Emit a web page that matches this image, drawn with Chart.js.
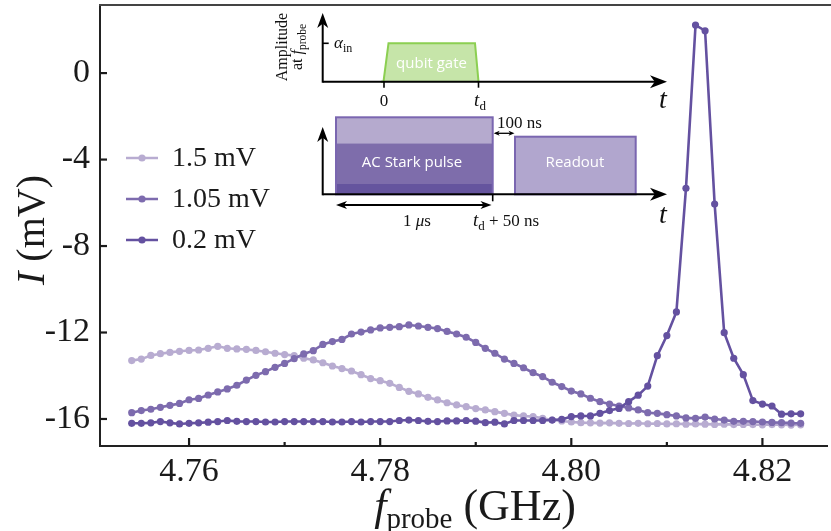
<!DOCTYPE html>
<html><head><meta charset="utf-8">
<script src="https://cdn.jsdelivr.net/npm/chart.js@4"></script>
<style>html,body{margin:0;padding:0;background:#fff;overflow:hidden}</style>
</head><body>
<canvas id="c" width="831" height="531"></canvas>
<script>
// ---------- data ----------
const freqs = [4.754,4.755,4.756,4.757,4.758,4.759,4.760,4.761,4.762,4.763,4.764,4.765,4.766,4.767,4.768,4.769,4.770,4.771,4.772,4.773,4.774,4.775,4.776,4.777,4.778,4.779,4.780,4.781,4.782,4.783,4.784,4.785,4.786,4.787,4.788,4.789,4.790,4.791,4.792,4.793,4.794,4.795,4.796,4.797,4.798,4.799,4.800,4.801,4.802,4.803,4.804,4.805,4.806,4.807,4.808,4.809,4.810,4.811,4.812,4.813,4.814,4.815,4.816,4.817,4.818,4.819,4.820,4.821,4.822,4.823,4.824];
const seriesLabels = ['1.5 mV','1.05 mV','0.2 mV'];
const I_15 = [-13.30,-13.23,-13.06,-12.98,-12.92,-12.87,-12.83,-12.81,-12.73,-12.64,-12.73,-12.76,-12.78,-12.83,-12.89,-12.96,-13.02,-13.07,-13.19,-13.27,-13.40,-13.55,-13.67,-13.78,-13.95,-14.13,-14.23,-14.35,-14.54,-14.72,-14.84,-15.00,-15.12,-15.25,-15.35,-15.43,-15.52,-15.58,-15.66,-15.74,-15.82,-15.86,-15.89,-15.97,-16.05,-16.09,-16.14,-16.17,-16.18,-16.19,-16.18,-16.20,-16.21,-16.20,-16.22,-16.21,-16.23,-16.22,-16.24,-16.23,-16.24,-16.25,-16.24,-16.26,-16.25,-16.26,-16.27,-16.26,-16.27,-16.28,-16.27];
const I_105 = [-15.71,-15.61,-15.55,-15.46,-15.37,-15.28,-15.11,-15.05,-14.89,-14.75,-14.61,-14.44,-14.20,-13.98,-13.81,-13.61,-13.43,-13.21,-12.99,-12.84,-12.55,-12.42,-12.32,-12.07,-11.98,-11.88,-11.79,-11.76,-11.73,-11.65,-11.70,-11.76,-11.82,-11.95,-12.07,-12.22,-12.46,-12.73,-12.96,-13.23,-13.43,-13.63,-13.86,-14.04,-14.30,-14.50,-14.71,-14.84,-15.04,-15.20,-15.31,-15.40,-15.49,-15.58,-15.71,-15.74,-15.80,-15.86,-15.95,-15.97,-15.91,-16.00,-16.05,-16.11,-16.11,-16.12,-16.14,-16.16,-16.17,-16.19,-16.20];
const I_02 = [-16.20,-16.20,-16.18,-16.12,-16.18,-16.23,-16.20,-16.18,-16.15,-16.12,-16.07,-16.11,-16.12,-16.12,-16.14,-16.14,-16.12,-16.12,-16.12,-16.12,-16.12,-16.14,-16.14,-16.12,-16.14,-16.12,-16.12,-16.12,-16.07,-16.05,-16.07,-16.11,-16.12,-16.09,-16.09,-16.07,-16.10,-16.17,-16.15,-16.23,-16.07,-16.07,-16.07,-16.07,-16.05,-16.02,-15.89,-15.86,-15.86,-15.74,-15.61,-15.51,-15.20,-14.90,-14.48,-13.07,-12.14,-11.05,-5.33,2.22,1.96,-6.06,-12.01,-13.19,-13.95,-15.15,-15.31,-15.40,-15.78,-15.76,-15.76];
const xTickValues = [4.76,4.77,4.78,4.79,4.80,4.81,4.82];
const xTickLabels = ['4.76','','4.78','','4.80','','4.82'];
const yTickValues = [-16,-12,-8,-4,0];
const yTickLabels = ['-16','-12','-8','-4','0'];

// ---------- style ----------
const colors = ['#b8acd1','#7d6bae','#6451a0'];
const SERIF = '"Liberation Serif", "Times New Roman", serif';
const SANS = '"Open Sans", "Noto Sans", sans-serif';
const INK = '#1a1a1a';

function toXY(ys){ return ys.map((v,i)=>({x:freqs[i], y:v})); }

function runs(ctx, parts, x, y, align){
  let w = 0;
  parts.forEach(p=>{ ctx.font = p.f; p.w = ctx.measureText(p.t).width; w += p.w; });
  let cx = align==='center' ? x - w/2 : (align==='right' ? x - w : x);
  ctx.textAlign = 'left';
  parts.forEach(p=>{ ctx.font = p.f; ctx.fillText(p.t, cx, y + (p.dy||0)); cx += p.w; });
}
function head(ctx, x, y, dir, len, half){
  const a = {right:0, up:-Math.PI/2, left:Math.PI, down:Math.PI/2}[dir];
  ctx.save(); ctx.translate(x,y); ctx.rotate(a);
  ctx.beginPath(); ctx.moveTo(0,0); ctx.lineTo(-len,-half); ctx.lineTo(-len*0.72,0); ctx.lineTo(-len,half); ctx.closePath(); ctx.fill();
  ctx.restore();
}
function line(ctx,x1,y1,x2,y2){ ctx.beginPath(); ctx.moveTo(x1,y1); ctx.lineTo(x2,y2); ctx.stroke(); }

const decor = {
  id:'decor',
  afterDraw(chart){
    const ctx = chart.ctx, ca = chart.chartArea;
    const xs = chart.scales.x, ys = chart.scales.y;
    ctx.save();
    // top spine
    ctx.strokeStyle = '#444'; ctx.lineWidth = 2;
    line(ctx, ca.left-1, ca.top, 831, ca.top);
    // inward ticks
    ctx.strokeStyle = INK; ctx.lineWidth = 2.2;
    yTickValues.forEach(v=>{ const p = ys.getPixelForValue(v); line(ctx, ca.left, p, ca.left+7, p); });
    xTickValues.forEach((v,i)=>{ const p = xs.getPixelForValue(v); line(ctx, p, ca.bottom, p, ca.bottom - (xTickLabels[i] ? 8 : 4)); });

    // axis titles
    ctx.fillStyle = INK; ctx.textBaseline = 'alphabetic';
    runs(ctx, [{t:'f', f:'italic 44px '+SERIF},{t:'probe', f:'29px '+SERIF, dy:8},{t:' (GHz)', f:'44px '+SERIF}], 475, 520, 'center');
    ctx.save(); ctx.translate(44, 230); ctx.rotate(-Math.PI/2);
    runs(ctx, [{t:'I', f:'italic 40px '+SERIF},{t:' (mV)', f:'40px '+SERIF}], 0, 0, 'center');
    ctx.restore();

    // legend
    const legY = [158,199,240];
    chart.data.datasets.forEach((ds,i)=>{
      ctx.strokeStyle = ds.borderColor; ctx.fillStyle = ds.borderColor; ctx.lineWidth = 2.5;
      line(ctx, 126, legY[i], 158, legY[i]);
      ctx.beginPath(); ctx.arc(142, legY[i], 3.6, 0, Math.PI*2); ctx.fill();
      ctx.fillStyle = INK; ctx.font = '28px '+SERIF; ctx.textBaseline = 'middle'; ctx.textAlign='left';
      ctx.fillText(ds.label, 172, legY[i]+1);
    });
    ctx.textBaseline = 'alphabetic';

    // ---------- inset: pulse sequence ----------
    const ox = 322.7, oyT = 81.7, oyB = 194.3, tipX = 667;
    ctx.fillStyle = '#c6e5a9'; ctx.strokeStyle = '#8ccf52'; ctx.lineWidth = 2;
    ctx.beginPath(); ctx.moveTo(383, oyT); ctx.lineTo(388.5, 43.3); ctx.lineTo(475, 43.3); ctx.lineTo(478.5, oyT); ctx.closePath(); ctx.fill();
    ctx.beginPath(); ctx.moveTo(381, oyT); ctx.lineTo(383.5, oyT); ctx.lineTo(388.5, 43.3); ctx.lineTo(475, 43.3); ctx.lineTo(478.5, oyT); ctx.stroke();
    ctx.fillStyle = '#ffffff'; ctx.font = '15px '+SANS; ctx.textAlign='center'; ctx.textBaseline='middle';
    ctx.fillText('qubit gate', 431.5, 63.5);

    const bx1 = 336, bx2 = 492.7;
    ctx.fillStyle = '#b5aace'; ctx.fillRect(bx1, 117.3, bx2-bx1, 26);
    ctx.fillStyle = '#7e6dab'; ctx.fillRect(bx1, 143.3, bx2-bx1, 40.7);
    ctx.fillStyle = '#65549e'; ctx.fillRect(bx1, 184, bx2-bx1, oyB-184);
    ctx.strokeStyle = '#7a66b0'; ctx.lineWidth = 2; ctx.strokeRect(bx1, 117.3, bx2-bx1, oyB-117.3);
    ctx.fillStyle = '#ffffff'; ctx.font = '15px '+SANS;
    ctx.fillText('AC Stark pulse', 412, 162.5);
    ctx.fillStyle = '#b1a6ce'; ctx.fillRect(515, 136.7, 120.7, oyB-136.7);
    ctx.strokeStyle = '#7a66b0'; ctx.strokeRect(515, 136.7, 120.7, oyB-136.7);
    ctx.fillStyle = '#ffffff'; ctx.fillText('Readout', 575, 162.5);

    ctx.strokeStyle = '#000'; ctx.fillStyle = '#000'; ctx.lineWidth = 2;
    line(ctx, ox, oyT, tipX-10, oyT); line(ctx, ox, oyT+1, ox, 22);
    head(ctx, tipX, oyT, 'right', 17, 6.5); head(ctx, ox, 13, 'up', 15, 5.5);
    line(ctx, ox, oyB, tipX-10, oyB); line(ctx, ox, oyB+1, ox, 136);
    head(ctx, tipX, oyB, 'right', 17, 6.5); head(ctx, ox, 127, 'up', 15, 5.5);
    ctx.lineWidth = 1.6;
    line(ctx, ox, 43.3, ox+6, 43.3);
    line(ctx, 384, oyT, 384, oyT+6); line(ctx, 478.5, oyT, 478.5, oyT+6);
    line(ctx, bx2, oyB, bx2, oyB+7);
    ctx.lineWidth = 1.3;
    line(ctx, bx2+3, 133.3, 512, 133.3); head(ctx, bx2+1, 133.3, 'left', 6, 2.5); head(ctx, 514.5, 133.3, 'right', 6, 2.5);
    ctx.lineWidth = 1.8;
    line(ctx, bx1+5, 205, 486, 205); head(ctx, bx1, 205, 'left', 11, 4); head(ctx, 491.5, 205, 'right', 11, 4);

    ctx.fillStyle = '#111'; ctx.textBaseline = 'alphabetic';
    ctx.save(); ctx.translate(287, 47); ctx.rotate(-Math.PI/2);
    runs(ctx, [{t:'Amplitude', f:'16px '+SERIF}], 0, 0, 'center');
    runs(ctx, [{t:'at ', f:'16px '+SERIF},{t:'f', f:'italic 16px '+SERIF},{t:'probe', f:'11.5px '+SERIF, dy:3.5}], 0, 15, 'center');
    ctx.restore();
    runs(ctx, [{t:'\u03b1', f:'italic 17px '+SERIF},{t:'in', f:'12px '+SERIF, dy:3.5}], 334, 48, 'left');
    runs(ctx, [{t:'0', f:'17px '+SERIF}], 384, 106, 'center');
    runs(ctx, [{t:'t', f:'italic 19px '+SERIF},{t:'d', f:'13px '+SERIF, dy:3.5}], 480, 106, 'center');
    runs(ctx, [{t:'t', f:'italic 28px '+SERIF}], 663, 108, 'center');
    runs(ctx, [{t:'t', f:'italic 28px '+SERIF}], 663, 223, 'center');
    runs(ctx, [{t:'100 ns', f:'17px '+SERIF}], 497, 128, 'left');
    runs(ctx, [{t:'1 ', f:'17px '+SERIF},{t:'\u03bc', f:'italic 17px '+SERIF},{t:'s', f:'17px '+SERIF}], 417, 226, 'center');
    runs(ctx, [{t:'t', f:'italic 19px '+SERIF},{t:'d', f:'13px '+SERIF, dy:3.5},{t:' + 50 ns', f:'17px '+SERIF}], 506, 226, 'center');
    ctx.restore();
  }
};

new Chart(document.getElementById('c'), {
  type:'line',
  data:{ datasets:[
    {label:seriesLabels[0], data:toXY(I_15), borderColor:colors[0], backgroundColor:colors[0], order:3},
    {label:seriesLabels[1], data:toXY(I_105), borderColor:colors[1], backgroundColor:colors[1], order:2},
    {label:seriesLabels[2], data:toXY(I_02), borderColor:colors[2], backgroundColor:colors[2], order:1}
  ]},
  options:{
    responsive:false, animation:false, devicePixelRatio:1,
    layout:{padding:{top:5, right:0, left:0, bottom:0}},
    elements:{ line:{borderWidth:2.6, tension:0}, point:{radius:3.6, borderWidth:0, hoverRadius:3.6} },
    plugins:{ legend:{display:false}, tooltip:{enabled:false} },
    scales:{
      x:{ type:'linear', min:4.75068, max:4.8268,
        afterBuildTicks(s){ s.ticks = xTickValues.map(v=>({value:v})); },
        afterFit(s){ s.height = 85; s.paddingLeft = 0; s.paddingRight = 0; },
        grid:{drawOnChartArea:false, drawTicks:false},
        border:{display:true, color:'#222', width:2},
        ticks:{ padding:6, color:INK, font:{family:SERIF, size:34}, maxRotation:0, autoSkip:false,
          callback:(v,i)=>xTickLabels[i] } },
      y:{ type:'linear', min:-17.25, max:3.15,
        afterBuildTicks(s){ s.ticks = yTickValues.map(v=>({value:v})); },
        afterFit(s){ s.width = 100; s.paddingTop = 0; s.paddingBottom = 0; },
        grid:{drawOnChartArea:false, drawTicks:false},
        border:{display:true, color:'#222', width:2},
        ticks:{ padding:10, color:INK, font:{family:SERIF, size:34},
          callback:(v,i)=>yTickLabels[i] } }
    }
  },
  plugins:[decor]
});
</script>
</body></html>
